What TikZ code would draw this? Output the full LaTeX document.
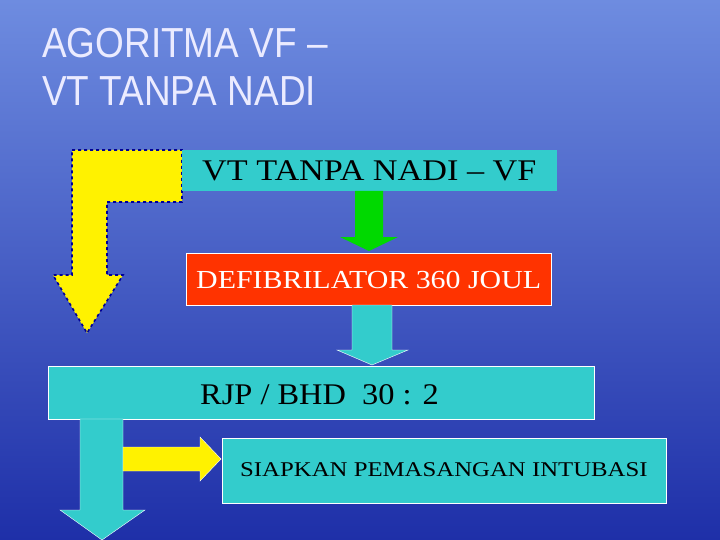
\documentclass[tikz,border=0pt]{standalone}
\usepackage{fontspec}
\setmainfont{Liberation Serif}
\newfontfamily\titlefont{Liberation Sans}
\definecolor{boxCyan}{HTML}{33CCCC}
\definecolor{boxRed}{HTML}{FF3300}
\definecolor{skyTop}{HTML}{6E8CE0}
\definecolor{skyMid}{HTML}{A9C0F0}
\definecolor{seaLow}{HTML}{1E2FA8}
\newcommand{\wideText}[2]{\scalebox{#1}[1]{#2}}
\begin{document}
\begin{tikzpicture}[x=1pt,y=-1pt,
  boxStyle/.style={draw=white,line width=0.8pt},
  labelStyle/.style={anchor=west,inner sep=0pt}
]
%% background
\shade[top color=skyTop,middle color=skyMid,bottom color=seaLow] (0,0) rectangle (720,540);
\useasboundingbox (0,0) rectangle (720,540);
%% title
\node[labelStyle,anchor=north west,align=left,text=white!92!blue,font=\titlefont\fontsize{42}{48}\selectfont] (title) at (42,28) {\wideText{0.88}{AGORITMA VF –}\\\wideText{0.88}{VT TANPA NADI}};
%% bent yellow arrow
\draw[fill=yellow,draw=blue!60!black,dashed,line width=1.6pt]
  (72,150) -- (182,150) -- (182,202) -- (107,202) -- (107,275) -- (123,275)
  -- (87,333) -- (53,275) -- (72,275) -- cycle;
%% boxes
\fill[boxCyan] (182,150) rectangle (557,191);
\node[labelStyle,font=\fontsize{30}{34}\selectfont] (vt) at (202,171) {\wideText{1.14}{VT TANPA NADI – VF}};
\draw[boxStyle,fill=boxRed] (186,253) rectangle (551,305);
\node[labelStyle,text=white,font=\fontsize{26}{30}\selectfont] (defib) at (196,280) {\wideText{1.15}{DEFIBRILATOR 360 JOUL}};
\draw[boxStyle,fill=boxCyan] (48,366) rectangle (594,419);
\node[labelStyle,font=\fontsize{30}{34}\selectfont] (rjp) at (200,395) {\wideText{1.08}{RJP / BHD\ \ 30 : 2}};
\draw[boxStyle,fill=boxCyan] (222,438) rectangle (666,503);
\node[labelStyle,font=\fontsize{21}{25}\selectfont] (intub) at (240,470) {\wideText{1.18}{SIAPKAN PEMASANGAN INTUBASI}};
%% arrows
\fill[green!85!black] (355,191) -- (383,191) -- (383,237) -- (398,237) -- (369,251) -- (340,237) -- (355,237) -- cycle;
\draw[white,fill=boxCyan] (352,305) -- (392,305) -- (392,350) -- (408,350) -- (372,365) -- (337,350) -- (352,350) -- cycle;
\draw[white,fill=boxCyan] (80,419) -- (123,419) -- (123,510) -- (145,510) -- (102,540) -- (60,510) -- (80,510) -- cycle;
\draw[white,fill=yellow] (123,447) -- (200,447) -- (200,437) -- (221,459) -- (200,481) -- (200,471) -- (123,471) -- cycle;
\end{tikzpicture}
\end{document}
